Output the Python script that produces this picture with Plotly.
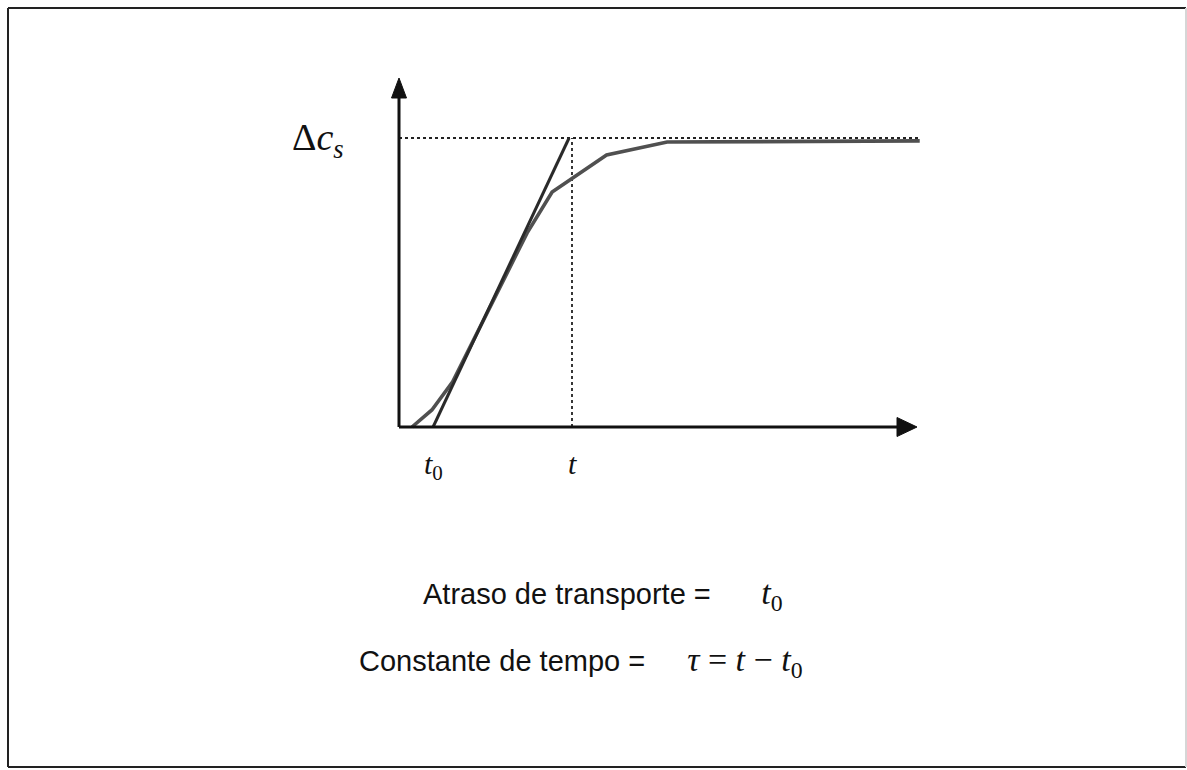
import plotly.graph_objects as go

# Step response of the process (time in units of 0.1 t, response normalised to Δc_s)
t_curve = [0.75, 1.9, 3.1, 7.4, 8.85, 12.0, 15.5, 30.1]
c_curve = [0.0, 0.059, 0.156, 0.671, 0.813, 0.941, 0.986, 0.99]

# Tangent through the inflection point
t_tangent = [1.97, 9.83]
c_tangent = [0.0, 1.0]

t0 = 1.97          # transport delay
t_final = 10.0     # time where the tangent reaches the final value
c_final = 1.0      # Δc_s
t_axis_end = 30.1

W, H = 1187, 770
# pixel layout of the diagram frame
ORIGIN_PX = (399, 427)
PX_PER_T = 17.3
PX_PER_C = 289.0

x_range = [-ORIGIN_PX[0] / PX_PER_T, (W - ORIGIN_PX[0]) / PX_PER_T]
y_range = [-(H - ORIGIN_PX[1]) / PX_PER_C, ORIGIN_PX[1] / PX_PER_C]

fig = go.Figure()

# guide lines (dotted)
fig.add_trace(go.Scatter(x=[0, t_axis_end], y=[c_final, c_final], mode="lines",
                         line=dict(color="#222", width=1.8, dash="dot"), hoverinfo="skip"))
fig.add_trace(go.Scatter(x=[t_final, t_final], y=[0, c_final], mode="lines",
                         line=dict(color="#222", width=1.8, dash="dot"), hoverinfo="skip"))

# response curve
fig.add_trace(go.Scatter(x=t_curve, y=c_curve, mode="lines",
                         line=dict(color="#505050", width=3.6), hoverinfo="skip"))
# tangent line
fig.add_trace(go.Scatter(x=t_tangent, y=c_tangent, mode="lines",
                         line=dict(color="#2a2a2a", width=3.0), hoverinfo="skip"))

# axes with arrow heads
y_tip = (ORIGIN_PX[1] - 78) / PX_PER_C
y_base = (ORIGIN_PX[1] - 98) / PX_PER_C
x_tip = (917 - ORIGIN_PX[0]) / PX_PER_T
x_base = (897 - ORIGIN_PX[0]) / PX_PER_T
hw_x = 7.5 / PX_PER_T
hw_y = 9.5 / PX_PER_C

shapes = [
    dict(type="line", xref="x", yref="y", x0=0, y0=0, x1=0, y1=y_base,
         line=dict(color="#111", width=3)),
    dict(type="line", xref="x", yref="y", x0=0, y0=0, x1=x_base, y1=0,
         line=dict(color="#111", width=3)),
    dict(type="path", xref="x", yref="y",
         path=f"M {-hw_x} {y_base} L {hw_x} {y_base} L 0 {y_tip} Z",
         fillcolor="#111", line=dict(color="#111", width=1)),
    dict(type="path", xref="x", yref="y",
         path=f"M {x_base} {-hw_y} L {x_base} {hw_y} L {x_tip} 0 Z",
         fillcolor="#111", line=dict(color="#111", width=1)),
]

# page frame
def px(x):
    return x / W

def py(y):
    return 1 - y / H

frame = [
    (8, 8, 1186, 8, "#222"),
    (8, 8, 8, 767, "#222"),
    (8, 767, 1186, 767, "#222"),
    (1186, 8, 1186, 767, "#d6d6d6"),
]
for x0, y0, x1, y1, col in frame:
    shapes.append(dict(type="line", xref="paper", yref="paper",
                       x0=px(x0), y0=py(y0), x1=px(x1), y1=py(y1),
                       line=dict(color=col, width=2)))

serif = "Liberation Serif, Times New Roman, serif"
sans = "Liberation Sans, Arial, sans-serif"
math_span = "<span style='font-family:Liberation Serif;font-size:34px'>"
sp = "&nbsp;"

annotations = [
    dict(text="Δ<i>c</i><sub><i>s</i></sub>", xref="paper", yref="paper",
         x=px(290), y=py(140), xanchor="left", yanchor="middle", showarrow=False,
         font=dict(family=serif, size=38, color="#111")),
    dict(text="<i>t</i><sub>0</sub>", xref="x", yref="paper",
         x=t0, y=py(466), xanchor="center", yanchor="middle", showarrow=False,
         font=dict(family=serif, size=30, color="#111")),
    dict(text="<i>t</i>", xref="x", yref="paper",
         x=t_final, y=py(463), xanchor="center", yanchor="middle", showarrow=False,
         font=dict(family=serif, size=30, color="#111")),
    dict(text="Atraso de transporte = " + math_span + sp * 5
              + "<i>t</i><sub>0</sub></span>",
         xref="paper", yref="paper", x=px(421), y=py(595), xanchor="left", yanchor="middle",
         showarrow=False, font=dict(family=sans, size=29, color="#111")),
    dict(text="Constante de tempo = " + math_span + sp * 4
              + "<i>τ</i> = <i>t</i> − <i>t</i><sub>0</sub></span>",
         xref="paper", yref="paper", x=px(357), y=py(662), xanchor="left", yanchor="middle",
         showarrow=False, font=dict(family=sans, size=29, color="#111")),
]

fig.update_layout(
    width=W, height=H,
    margin=dict(l=0, r=0, t=0, b=0),
    paper_bgcolor="white", plot_bgcolor="white",
    showlegend=False,
    xaxis=dict(range=x_range, visible=False, fixedrange=True),
    yaxis=dict(range=y_range, visible=False, fixedrange=True),
    shapes=shapes,
    annotations=annotations,
)

fig.write_html("out.html")
